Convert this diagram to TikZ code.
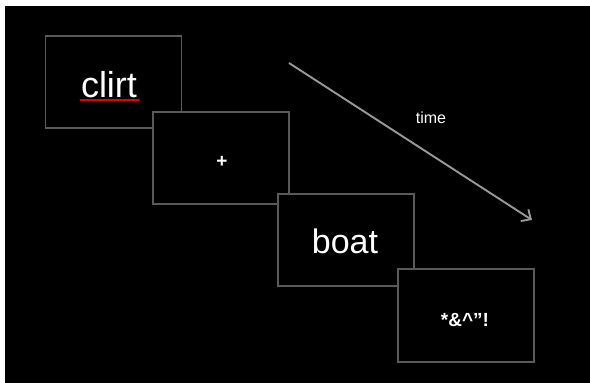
\documentclass[tikz,border=0pt]{standalone}
\usepackage{fontspec}
\setmainfont{Liberation Sans}
\usetikzlibrary{arrows.meta}
\tikzset{
  frame/.style={draw=black!65!white, line width=1.4pt, fill=black, inner sep=0pt,
    minimum width=136pt, minimum height=92pt},
  word/.style={text=white, inner sep=0pt, anchor=base},
  spell/.style={draw=red!90!black, line width=1.6pt},
  timearrow/.style={draw=black!40!white, line width=1.9pt, -{Straight Barb[length=7.5pt,width=14pt,line width=1.9pt]}}
}
\begin{document}
\begin{tikzpicture}[x=1pt,y=-1pt]
\useasboundingbox (0,0) rectangle (590,383);
\fill[white] (0,0) rectangle (590,383);
\fill[black] (5,6) rectangle (590,383);
\node[frame] (b1) at (113.5,82) {};
\node[word, font=\fontsize{36}{40}\selectfont] (t1) at (109,97) {clirt};
\coordinate (u0) at (80,99.8);
\coordinate (u1) at (139,99.8);
\draw[spell] (u0) -- (u1);
\node[frame] (b2) at (221,158) {};
\node[word, font=\bfseries\fontsize{19}{22}\selectfont] (t2) at (222,167) {+};
\node[frame] (b3) at (346,240) {};
\node[word, font=\fontsize{34}{38}\selectfont] (t3) at (345,253) {boat};
\node[frame, minimum height=93pt] (b4) at (466,315.5) {};
\node[word, font=\bfseries\fontsize{19}{22}\selectfont] (t4) at (465,326) {*\&\^{}”!};
\coordinate (a0) at (289,63);
\coordinate (a1) at (532,220);
\draw[timearrow] (a0) -- (a1);
\node[word, font=\fontsize{16}{19}\selectfont] (tl) at (431,123) {time};
\end{tikzpicture}
\end{document}
